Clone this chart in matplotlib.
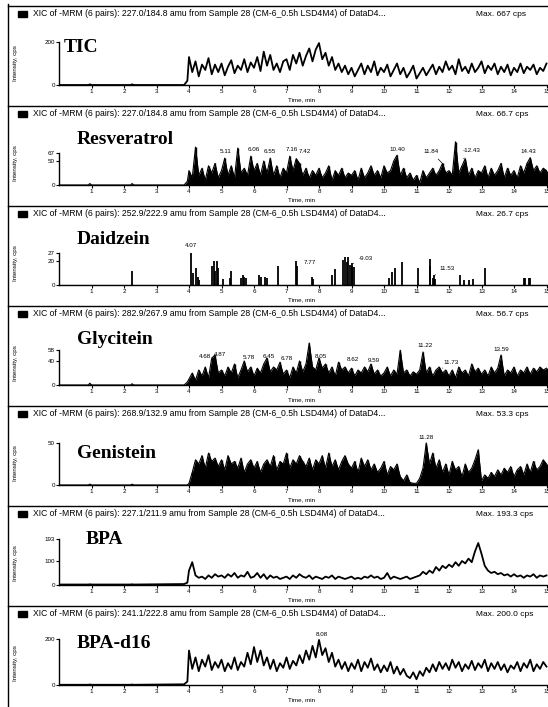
import matplotlib
matplotlib.use("Agg")
import matplotlib.pyplot as plt
import numpy as np

plt.rcParams['font.family'] = ['Liberation Sans', 'DejaVu Sans']

# sampling grid of the traces after 4 min (min)
times = np.round(np.arange(4.0, 15.05, 0.1), 2)
# quiet part before 4 min
lead_t = [0.0, 0.9, 0.95, 1.0, 2.2, 2.25, 2.3, 3.85, 3.95]

names = ["TIC", "Resveratrol", "Daidzein", "Glycitein", "Genistein", "BPA", "BPA-d16"]
transitions = ["227.0/184.8", "227.0/184.8", "252.9/222.9", "282.9/267.9",
               "268.9/132.9", "227.1/211.9", "241.1/222.8"]
max_text = ["Max. 667 cps", "Max. 66.7 cps", "Max. 26.7 cps", "Max. 56.7 cps",
            "Max. 53.3 cps", "Max. 193.3 cps", "Max. 200.0 cps"]
yticks = [[0, 200], [0, 50, 67], [0, 20, 27], [0, 40, 58], [0, 50], [0, 100, 193], [0, 200]]

tic = [130, 60, 110, 40, 95, 70, 125, 50, 95, 60,
       100, 45, 85, 115, 55, 90, 70, 120, 60, 105,
       80, 130, 65, 155, 90, 140, 70, 100, 60, 110,
       120, 70, 140, 100, 150, 90, 135, 170, 110, 165,
       195, 120, 150, 90, 130, 70, 100, 60, 90, 50,
       80, 40, 70, 100, 50, 90, 60, 110, 45, 80,
       60, 95, 40, 70, 100, 50, 80, 35, 60, 90,
       30, 55, 80, 45, 70, 95, 50, 85, 60, 110,
       70, 90, 50, 120, 65, 85, 55, 100, 60, 80,
       110, 55, 90, 70, 100, 50, 85, 60, 95, 45,
       80, 60, 100, 55, 85, 70, 95, 50, 80, 65,
       100]
tic_lead = [0, 0, 3, 0, 0, 3, 0, 0, 20]

resveratrol = [30, 15, 79, 20, 35, 10, 40, 25, 45, 15,
               30, 56, 20, 40, 15, 77, 25, 35, 20, 60,
               30, 45, 20, 50, 25, 56, 20, 40, 15, 35,
               25, 60, 30, 55, 45, 20, 35, 15, 30, 20,
               35, 15, 25, 40, 10, 30, 20, 35, 15, 25,
               20, 30, 10, 35, 15, 25, 40, 20, 30, 15,
               40, 25, 30, 50, 62, 20, 35, 15, 25, 10,
               20, 5, 30, 15, 25, 35, 20, 30, 45, 25,
               30, 20, 90, 25, 40, 55, 20, 35, 15, 30,
               25, 40, 15, 35, 20, 30, 45, 15, 35, 20,
               30, 15, 40, 25, 45, 57, 30, 40, 25, 35,
               30]
resveratrol_lead = [0, 0, 3, 0, 0, 3, 0, 0, 8]

# Daidzein is a set of single spikes
daidzein_t = [2.25, 4.07, 4.12, 4.2, 4.27, 4.3, 4.72, 4.76, 4.8, 4.85, 4.9,
              5.05, 5.25, 5.3, 5.6, 5.65, 5.7, 5.75, 6.15, 6.2, 6.35, 6.4,
              6.75, 7.3, 7.33, 7.78, 7.82, 8.4, 8.5, 8.75, 8.8, 8.85, 8.9,
              8.95, 9.0, 9.03, 9.08, 10.15, 10.25, 10.35, 10.55, 11.05, 11.4,
              11.43, 11.5, 11.53, 11.57, 12.35, 12.45, 12.6, 12.75, 13.1,
              14.3, 14.35, 14.45, 14.5]
daidzein_h = [12, 27, 10, 14, 7, 4, 16, 20, 12, 20, 14,
              5, 6, 12, 6, 8, 7, 6, 8, 7, 7, 6,
              16, 20, 16, 7, 5, 8, 13, 21, 23, 19, 23,
              17, 16, 18, 15, 6, 11, 14, 19, 14, 22,
              16, 6, 8, 5, 8, 4, 4, 5, 14,
              6, 6, 6, 6]

glycitein = [10, 20, 8, 25, 15, 30, 12, 45, 50, 20,
             25, 15, 30, 20, 35, 12, 25, 40, 22, 30,
             15, 28, 20, 35, 45, 22, 30, 25, 38, 18,
             25, 12, 30, 20, 40, 22, 35, 70, 30, 25,
             45, 28, 35, 20, 30, 15, 38, 25, 30, 20,
             28, 15, 25, 20, 30, 22, 35, 18, 25, 15,
             20, 30, 15, 25, 18, 58, 20, 25, 15, 22,
             18, 25, 55, 20, 30, 15, 25, 30, 20, 25,
             15, 25, 12, 30, 20, 25, 15, 35, 22, 28,
             18, 25, 15, 30, 20, 28, 50, 15, 25, 20,
             30, 15, 25, 20, 30, 18, 28, 22, 30, 25,
             28]
glycitein_lead = [0, 0, 3, 0, 0, 2, 0, 0, 5]

genistein = [2, 15, 30, 25, 35, 20, 38, 28, 32, 22,
             30, 18, 35, 25, 28, 20, 32, 15, 25, 30,
             20, 28, 15, 25, 30, 22, 35, 18, 28, 25,
             38, 20, 30, 25, 35, 28, 22, 32, 18, 30,
             25, 35, 20, 38, 22, 30, 18, 28, 35, 25,
             20, 28, 15, 32, 22, 30, 18, 25, 15, 20,
             28, 12, 22, 18, 25, 10, 5, 12, 3, 2,
             2, 8, 20, 50, 25, 38, 20, 30, 15, 25,
             12, 28, 18, 22, 10, 25, 15, 20, 30, 42,
             5, 12, 8, 15, 10, 18, 12, 20, 15, 22,
             10, 18, 22, 12, 25, 15, 28, 18, 22, 30,
             25]
genistein_lead = [0, 0, 1, 0, 0, 1, 0, 0, 0]

bpa = [60, 95, 40, 30, 35, 25, 40, 30, 45, 35,
       40, 30, 45, 35, 50, 30, 40, 35, 55, 30,
       35, 50, 30, 45, 25, 40, 30, 35, 25, 30,
       35, 25, 40, 30, 45, 35, 30, 40, 25, 35,
       30, 25, 35, 30, 40, 25, 35, 30, 25, 30,
       35, 25, 30, 25, 35, 30, 40, 30, 35, 25,
       30, 50, 25, 35, 30, 25, 30, 35, 25, 30,
       35, 40, 55, 45, 60, 50, 75, 60, 80, 70,
       85, 75, 95, 80, 100, 90, 110, 95, 140, 175,
       130, 80, 60, 50, 55, 45, 50, 40, 45, 35,
       45, 35, 40, 30, 40, 35, 45, 30, 40, 35,
       40]
bpa_lead = [2, 2, 3, 2, 2, 3, 2, 4, 10]

bpa_d16 = [150, 70, 120, 60, 110, 80, 130, 65, 100, 75,
           110, 60, 95, 70, 120, 65, 100, 80, 140, 90,
           165, 100, 150, 85, 120, 70, 110, 60, 95, 75,
           120, 70, 105, 85, 130, 95, 150, 110, 170, 120,
           196, 130, 160, 100, 140, 80, 110, 70, 100, 60,
           95, 70, 110, 60, 100, 75, 115, 65, 90, 55,
           85, 60, 100, 50, 80, 45, 70, 40, 30, 55,
           25, 60, 40, 75, 55, 90, 60, 100, 70, 95,
           65, 110, 75, 100, 60, 90, 70, 105, 65, 95,
           75, 110, 60, 95, 70, 100, 65, 90, 55, 85,
           70, 100, 60, 95, 75, 110, 60, 90, 70, 100,
           80]
bpa_d16_lead = [1, 1, 2, 1, 1, 2, 1, 3, 15]

# peak labels: (text, x, y) in data units
peak_labels = {
    1: [("5.11", 5.11, 64), ("6.06", 6.0, 68), ("6.55", 6.5, 65), ("7.16", 7.16, 69),
        ("7.42", 7.55, 65), ("10.40", 10.40, 68), ("14.43", 14.43, 64)],
    2: [("4.07", 4.07, 31), ("7.77", 7.72, 17)],
    3: [("4.68", 4.5, 44), ("4.87", 4.95, 47), ("5.78", 5.85, 41), ("6.45", 6.45, 44),
        ("6.78", 7.0, 40), ("8.05", 8.05, 44), ("8.62", 9.05, 38), ("9.59", 9.7, 36),
        ("11.22", 11.26, 61), ("13.59", 13.62, 55)],
    4: [("11.28", 11.28, 54)],
    6: [("8.08", 8.08, 208)],
}
# labels with a leader line: (text, x, y, peak x, peak y)
leader_labels = {
    1: [("11.84", 11.45, 64, 11.84, 42), ("-12.43", 12.7, 66, 12.45, 55)],
    2: [("-9.03", 9.45, 20, 9.05, 18), ("11.53", 11.95, 12, 11.55, 8)],
    3: [("11.73", 12.05, 33, 11.8, 28)],
}

traces = [(tic, tic_lead), (resveratrol, resveratrol_lead), (None, None),
          (glycitein, glycitein_lead), (genistein, genistein_lead),
          (bpa, bpa_lead), (bpa_d16, bpa_d16_lead)]
filled = [False, True, False, True, True, False, False]

W, H = 548, 707
fig = plt.figure(figsize=(W / 100, H / 100), dpi=100)

x0 = 59           # pixel of t = 0
pxmin = 32.5      # pixels per minute
axh = 62          # axes height above the baseline, px
px_per_unit = [43 / 200, 24 / 50, 24 / 20, 24 / 40, 42 / 50, 24 / 100, 46 / 200]


def fx(px):
    return px / W


def fy(py):
    return 1 - py / H


# page frame
fig.add_artist(plt.Line2D([fx(8), fx(8)], [fy(4), fy(707)], color='k', lw=1.0))
for k in range(7):
    top = 6 + 100 * k
    fig.add_artist(plt.Line2D([fx(8), 1], [fy(top), fy(top)], color='k', lw=1.0))

for k in range(7):
    top = 6 + 100 * k
    base = 85 + 100 * k
    ax = fig.add_axes([fx(x0), fy(base), 1 - fx(x0), axh / H])
    xmax = (W - x0) / pxmin
    ax.set_xlim(0, xmax)
    ax.set_ylim(0, axh / px_per_unit[k])

    if k == 2:
        ax.vlines(daidzein_t, 0, daidzein_h, color='k', lw=1.3)
        ax.plot([0, xmax], [0.3, 0.3], color='k', lw=0.8)
    else:
        vals, lead = traces[k]
        t_all = list(lead_t) + list(times)
        v_all = list(lead) + list(vals)
        if filled[k]:
            ax.plot(t_all, v_all, color='k', lw=0.8)
            ax.fill_between(t_all, 0, v_all, color='k', lw=0)
            ax.vlines(times, 0, vals, color='k', lw=1.0)
        else:
            ax.plot(t_all, v_all, color='k', lw=1.3)

    for s in ['top', 'right']:
        ax.spines[s].set_visible(False)
    ax.spines['left'].set_bounds(0, yticks[k][-1])
    ax.spines['left'].set_linewidth(1.0)
    ax.spines['bottom'].set_linewidth(1.0)
    ax.patch.set_alpha(0)

    ax.set_xticks(range(1, 16))
    ax.set_xticklabels([str(i) for i in range(1, 16)])
    ax.set_yticks(yticks[k])
    ax.set_yticklabels([str(v) for v in yticks[k]])
    ax.tick_params(axis='both', labelsize=4.5, length=2, width=0.8, pad=1)
    ax.set_xlabel("Time, min", fontsize=4.5, labelpad=0)
    ax.xaxis.set_label_coords((302 - x0) / (W - x0), -12 / axh)

    for txt, x, y in peak_labels.get(k, []):
        ax.text(x, y, txt, fontsize=4.5, ha='center', va='bottom')
    for txt, x, y, x2, y2 in leader_labels.get(k, []):
        ax.annotate(txt, xy=(x2, y2), xytext=(x, y), fontsize=4.5,
                    ha='center', va='bottom',
                    arrowprops=dict(arrowstyle='-', lw=0.5, color='k'))

    # panel name
    name_y = [48, 140, 240, 340, 453, 540, 643][k]
    name_x = [64, 77, 77, 77, 77, 86, 77][k]
    fig.text(fx(name_x), fy(name_y), names[k], family='Liberation Serif',
             fontweight='bold', fontsize=14, va='center', ha='left')

    # header line
    fig.add_artist(plt.Rectangle((fx(18), fy(top + 11)), 9 / W, 6 / H,
                                 color='k', transform=fig.transFigure))
    fig.text(fx(33), fy(top + 8),
             "XIC of -MRM (6 pairs): %s amu from Sample 28 (CM-6_0.5h LSD4M4) of DataD4..."
             % transitions[k], fontsize=6.2, va='center', ha='left')
    fig.text(fx(476), fy(top + 8), max_text[k], fontsize=6.0, va='center', ha='left')

    fig.text(fx(15), fy(base - 22), "Intensity, cps", fontsize=4.5, rotation=90,
             va='center', ha='center')

fig.savefig("out.png", dpi=100)
